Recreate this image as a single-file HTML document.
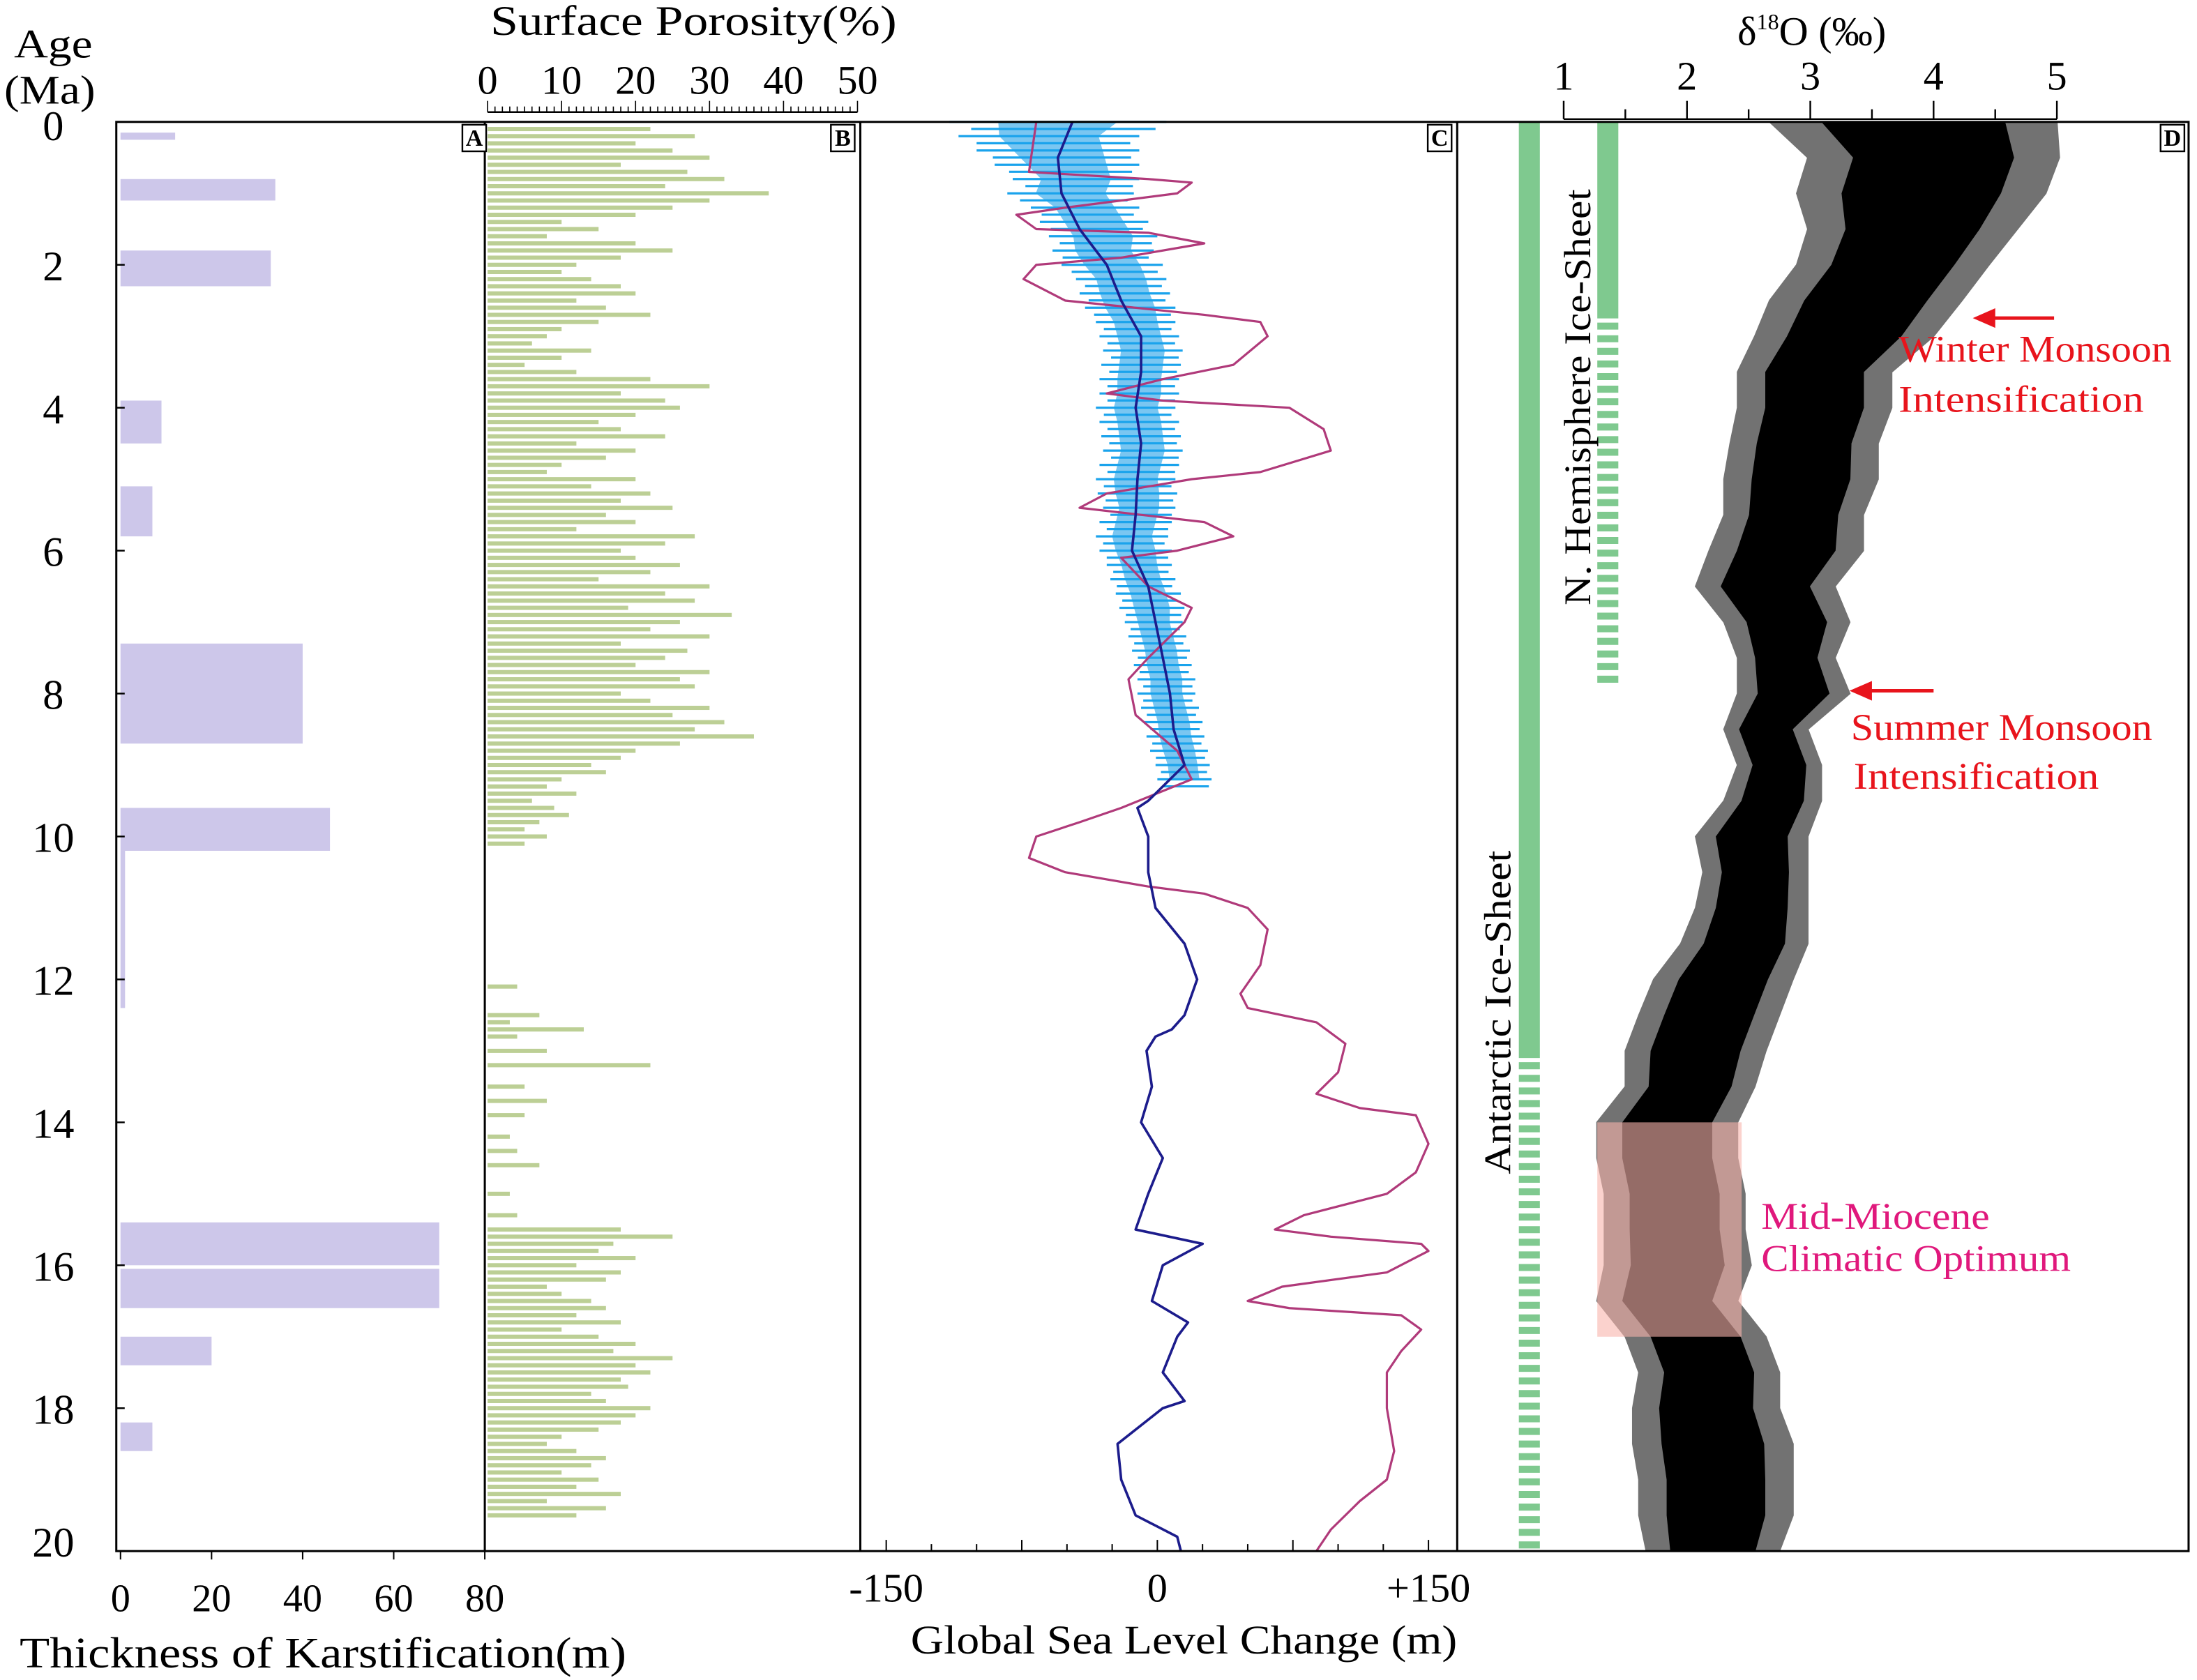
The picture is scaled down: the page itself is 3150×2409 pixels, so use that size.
<!DOCTYPE html>
<html><head><meta charset="utf-8"><style>
html,body{margin:0;padding:0;background:#fff;}
svg{display:block;}
text{font-family:"Liberation Serif",serif;}
</style></head><body>
<svg id="chart" width="3150" height="2409" viewBox="0 0 1568 1199" preserveAspectRatio="none" xmlns="http://www.w3.org/2000/svg">
<rect x="0" y="0" width="1568" height="1199" fill="#fff"/>
<g id="layer"></g>
</svg>
<script>
// ---- Panel A: karstification ----
const karstStart=[0.15,0.8,1.8,3.9,5.1,7.3,9.6,10.2,15.4,16.05,17.0,18.2];
const karstEnd=[0.25,1.1,2.3,4.5,5.8,8.7,10.2,12.4,16.0,16.6,17.4,18.6];
const karstThick=[12,34,33,9,7,40,46,1,70,70,20,7];
// ---- Panel B: porosity ----
const poroAges=[];
const poroVals=[22,28,20,25,30,18,27,32,24,38,30,25,20,10,15,8,20,25,18,12,10,14,18,20,12,16,22,15,10,8,6,14,10,5,12,22,30,18,24,26,20,15,18,24,12,20,16,10,8,20,14,22,18,25,16,20,12,28,24,18,20,26,22,15,30,24,28,19,33,26,22,30,18,27,24,20,30,26,28,18,22,30,25,32,28,36,26,20,18,14,16,10,8,12,6,9,11,7,5,8,5];
for(let i=0;i<poroVals.length;i++)poroAges.push(+(0.1+i*0.1).toFixed(2));
const poroAges2=[12.1,12.5,12.6,12.7,12.8,13.0,13.2,13.5,13.7,13.9,14.2,14.4,14.6,15.0,15.3];
const poroVals2=[4,7,3,13,4,8,22,5,8,5,3,4,7,3,4];
const poroVals3=[18,25,17,15,20,12,18,16,8,10,14,16,12,18,10,15,20,17,25,20,22,18,19,14,16,22,20,18,15,10,8,12,16,14,10,15,12,18,8,16,12];
const poroAges3=[];for(let i=0;i<poroVals3.length;i++)poroAges3.push(+(15.5+i*0.1).toFixed(2));
// ---- Panel C: sea level ----
const slAges=[0,0.5,1,1.5,2,2.5,3,3.5,4,4.5,5,5.5,6,6.5,7,7.5,8,8.5,9,9.5,9.6,10,10.5,11,11.5,12,12.5,12.7,12.8,13,13.5,14,14.5,15,15.5,15.7,16,16.5,16.8,17,17.5,17.9,18,18.5,19,19.5,19.8,20];
const slVals=[-47,-55,-53,-43,-28,-20,-9,-9,-12,-9,-11,-12,-14,-5,-1,3,7,9,15,-5,-11,-5,-5,-1,15,22,15,8,-1,-6,-3,-9,3,-5,-12,25,3,-3,17,11,3,15,3,-22,-20,-12,11,13];
const errAges=[];for(let i=0;i<47;i++)errAges.push(+(i*0.2).toFixed(2));
const errCenter=[-55,-60,-55,-50,-45,-48,-40,-35,-30,-30,-25,-20,-18,-15,-12,-10,-8,-9,-10,-10,-12,-10,-9,-8,-10,-12,-11,-10,-12,-14,-12,-10,-8,-5,-3,-2,0,2,3,5,5,7,9,10,12,14,15];
const errHalf=[60,50,45,40,35,35,30,30,30,28,28,25,25,25,22,22,22,22,22,22,22,22,22,22,22,22,22,20,20,20,20,18,18,18,18,16,16,16,16,16,16,16,16,16,16,15,15];
const purAges=[0,0.7,0.8,0.85,1.0,1.2,1.3,1.5,1.55,1.7,1.9,2.0,2.2,2.5,2.7,2.8,3.0,3.4,3.6,3.8,3.9,4.0,4.3,4.6,4.9,5.0,5.2,5.4,5.6,5.8,6.0,6.1,6.5,6.8,7.0,7.5,7.8,8.3,8.8,9.2,9.6,9.8,10.0,10.3,10.5,10.7,10.8,11.0,11.3,11.8,12.2,12.4,12.6,12.9,13.3,13.6,13.8,13.9,14.3,14.7,15.0,15.3,15.5,15.6,15.7,15.8,16.1,16.3,16.5,16.6,16.7,16.9,17.2,17.5,18.0,18.6,19.0,19.3,19.7,20.0];
const purVals=[-67,-71,-5,19,11,-51,-78,-67,-5,26,-20,-67,-74,-51,26,57,61,42,3,-28,3,73,92,96,57,19,-28,-43,26,42,11,-20,-5,19,15,-5,-16,-12,11,19,-20,-43,-67,-71,-51,-5,26,50,61,57,46,50,88,104,100,88,112,143,150,143,127,81,65,96,146,150,127,69,50,73,135,146,135,127,127,131,127,112,96,88];
// ---- Panel D: d18O envelope (offset above 1 permil) ----
const dAges=[];for(let i=0;i<41;i++)dAges.push(i*0.5);
const dMin=[1.67,1.98,1.89,1.98,1.89,1.67,1.55,1.41,1.41,1.35,1.3,1.3,1.18,1.07,1.3,1.41,1.41,1.3,1.41,1.3,1.07,1.13,1.07,0.95,0.73,0.61,0.5,0.5,0.27,0.27,0.33,0.33,0.33,0.27,0.5,0.61,0.56,0.56,0.61,0.61,0.67];
const dMax=[4.0,4.02,3.91,3.68,3.45,3.23,3.0,2.66,2.66,2.55,2.55,2.43,2.43,2.2,2.32,2.2,2.32,1.98,2.09,2.09,1.98,1.98,1.98,1.98,1.86,1.75,1.64,1.55,1.41,1.41,1.47,1.47,1.52,1.41,1.64,1.75,1.75,1.86,1.86,1.86,1.75];
const NS='http://www.w3.org/2000/svg';
const L=document.getElementById('layer');
const yA=a=>87+a*51;
const xA=t=>86+t*3.25;
const xB=p=>348+p*5.28;
const xC=m=>826+m*1.29;
const xD=d=>1116+(d-1)*88;
function mk(tag,attrs,parent){const e=document.createElementNS(NS,tag);for(const k in attrs)e.setAttribute(k,attrs[k]);(parent||L).appendChild(e);return e;}
function txt(x,y,s,size,attrs,len){const a=Object.assign({x:x,y:y,'font-size':size},attrs||{});if(len){a.textLength=len;a.lengthAdjust='spacingAndGlyphs';}const e=mk('text',a);e.textContent=s;return e;}

// bars A
const gA=mk('g',{});


for(let i=0;i<karstThick.length;i++){
  const r=mk('rect',{x:xA(0),y:yA(karstStart[i]),width:xA(karstThick[i])-xA(0),height:Math.max(yA(karstEnd[i])-yA(karstStart[i]),2),fill:'#cdc7ea'},gA);
  
  
}
// bars B
const gB=mk('g',{});


function pbars(ages,vals){for(let i=0;i<vals.length;i++){
  const r=mk('rect',{x:xB(0),y:yA(ages[i])-1.5,width:xB(vals[i])-xB(0),height:3,fill:'#bccf95'},gB);
  
  
}}
pbars(poroAges,poroVals);pbars(poroAges2,poroVals2);pbars(poroAges3,poroVals3);

// Panel C
const gC=mk('g',{});


let band='';
for(let i=0;i<errAges.length;i++)band+=(i?'L':'M')+xC(errCenter[i]+errHalf[i]*0.55)+','+yA(errAges[i]);
for(let i=errAges.length-1;i>=0;i--)band+='L'+xC(errCenter[i]-errHalf[i]*0.55)+','+yA(errAges[i]);
const bp=mk('path',{d:band+'Z',fill:'#22a0e8',opacity:0.6},gC);


for(let i=0;i<errAges.length;i++){
  for(let k=0;k<2;k++){
    const yy=yA(errAges[i])+k*5;
    const ln=mk('line',{x1:xC(errCenter[i]-errHalf[i]*(k?0.8:1)),x2:xC(errCenter[i]+errHalf[i]*(k?0.9:1)),y1:yy,y2:yy,stroke:'#1aa3ec','stroke-width':1.6},gC);
    
    
  }
}
function line(ages,vals,xf,color,w,name){let d='';for(let i=0;i<ages.length;i++)d+=(i?'L':'M')+xf(vals[i]).toFixed(1)+','+yA(ages[i]).toFixed(1);
  const p=mk('path',{d:d,fill:'none',stroke:color,'stroke-width':w,'stroke-linejoin':'round'},gC);
  
  }
line(purAges,purVals,xC,'#b03a7a',1.6,'sea-level-curve-haq');
line(slAges,slVals,xC,'#1c1c8c',1.8,'sea-level-curve-miller');

// Panel D
const gD=mk('g',{});


function gbar(x,solidEnd,dashEnd,name){
  const r=mk('rect',{x:x,y:87,width:15,height:yA(solidEnd)-87,fill:'#7fc98f'},gD);
  
  
  const d=mk('line',{x1:x+7.5,x2:x+7.5,y1:yA(solidEnd)+3,y2:yA(dashEnd),stroke:'#7fc98f','stroke-width':15,'stroke-dasharray':'5,4'},gD);
  
  
}
gbar(1084,13.1,20,'antarctic-ice-sheet-bar');
gbar(1140,2.75,7.9,'n-hemisphere-ice-sheet-bar');
let env='';
for(let i=0;i<dAges.length;i++)env+=(i?'L':'M')+xD(1+dMax[i])+','+yA(dAges[i]);
for(let i=dAges.length-1;i>=0;i--)env+='L'+xD(1+dMin[i])+','+yA(dAges[i]);
const ep=mk('path',{d:env+'Z',fill:'#000',opacity:0.55,stroke:'#000','stroke-width':1},gD);


let core='';
for(let i=0;i<dAges.length;i++){const m=(dMin[i]+dMax[i])/2,h=(dMax[i]-dMin[i])*0.32;core+=(i?'L':'M')+xD(1+m+h)+','+yA(dAges[i]);}
for(let i=dAges.length-1;i>=0;i--){const m=(dMin[i]+dMax[i])/2,h=(dMax[i]-dMin[i])*0.32;core+='L'+xD(1+m-h)+','+yA(dAges[i]);}
const cp=mk('path',{d:core+'Z',fill:'#000'},gD);


const pk=mk('rect',{x:1140,y:yA(14),width:103,height:yA(17)-yA(14),fill:'#f8b4ac',opacity:0.6},gD);



// frame
const fr=mk('g',{stroke:'#000','stroke-width':1.5,fill:'none'});


mk('rect',{x:83,y:87,width:1479,height:1020},fr);
[346,614,1040].forEach(x=>mk('line',{x1:x,x2:x,y1:87,y2:1107},fr));
[['A',330],['B',593],['C',1019],['D',1542]].forEach(([s,x])=>{
  const g=mk('g',{});
  
  
  mk('rect',{x:x,y:89,width:17,height:19,fill:'#fff',stroke:'#000','stroke-width':1.2},g);
  const t=txt(x+8.5,104,s,17,{'text-anchor':'middle','font-family':'Liberation Sans','font-weight':'bold'});g.appendChild(t);
});
// age axis
const ageTicks=[0,2,4,6,8,10,12,14,16,18,20];
ageTicks.forEach(a=>{const t=txt(38,yA(a)+11+(a===0?2:0)-(a===20?7:0),String(a),30,{'text-anchor':'middle'});
  
  
  mk('line',{x1:83,x2:89,y1:yA(a),y2:yA(a),stroke:'#000','stroke-width':1.2});});
txt(10,41,'Age',29,{},56);
txt(3,74,'(Ma)',29,{},65);
// A bottom axis
const aTicks=[0,20,40,60,80];
aTicks.forEach(v=>{mk('line',{x1:xA(v),x2:xA(v),y1:1107,y2:1113,stroke:'#000'});
  const t=txt(xA(v),1150,String(v),28,{'text-anchor':'middle'});
  
  });
txt(14,1190,'Thickness of Karstification(m)',31,{},433);
// B top axis
mk('line',{x1:xB(0),x2:xB(50),y1:80,y2:80,stroke:'#000','stroke-width':1.2});
for(let v=0;v<=50;v++)mk('line',{x1:xB(v),x2:xB(v),y1:80,y2:v%10===0?72:76,stroke:'#000','stroke-width':0.8});
[0,10,20,30,40,50].forEach(v=>{const t=txt(xB(v),67,String(v),29,{'text-anchor':'middle'});
  
  });
txt(350,25,'Surface Porosity(%)',30,{},290);
// C bottom axis
for(let v=-150;v<=150;v+=25)mk('line',{x1:xC(v),x2:xC(v),y1:1107,y2:v%75===0?1099:1102,stroke:'#000','stroke-width':1});
[[-150,'-150'],[0,'0'],[150,'+150']].forEach(([v,s])=>{const t=txt(xC(v),1143,s,29,{'text-anchor':'middle'});
  
  });
txt(650,1180,'Global Sea Level Change (m)',29,{},390);
// D top axis
mk('line',{x1:xD(1),x2:xD(5),y1:85,y2:85,stroke:'#000','stroke-width':1.2});
for(let v=1;v<=5;v+=0.5)mk('line',{x1:xD(v),x2:xD(v),y1:85,y2:v%1===0?72:78,stroke:'#000','stroke-width':1.2});
[1,2,3,4,5].forEach(v=>{const t=txt(xD(v),64,String(v),29,{'text-anchor':'middle'});
  
  });
const tt=txt(1240,32,'',29,{});
tt.innerHTML='δ<tspan font-size="16" dy="-11">18</tspan><tspan dy="11">O (‰)</tspan>';
// ice sheet labels
txt(0,0,'Antarctic Ice-Sheet',27,{transform:'translate(1078,838) rotate(-90)'},231);
txt(0,0,'N. Hemisphere Ice-Sheet',27,{transform:'translate(1135,432) rotate(-90)'},297);
function arrow(x1,x2,y){mk('line',{x1:x1,x2:x2+12,y1:y,y2:y,stroke:'#e8141c','stroke-width':2.5});
  mk('path',{d:`M${x2},${y}L${x2+16},${y-7}L${x2+16},${y+7}Z`,fill:'#e8141c'});}
arrow(1466,1408,227);arrow(1380,1320,493);
txt(1355,258,'Winter Monsoon',27,{fill:'#e8141c'},195);
txt(1355,294,'Intensification',27,{fill:'#e8141c'},175);
txt(1321,528,'Summer Monsoon',27,{fill:'#e8141c'},215);
txt(1323,563,'Intensification',27,{fill:'#e8141c'},175);
txt(1257,877,'Mid-Miocene',27,{fill:'#e0187c'},163);
txt(1257,907,'Climatic Optimum',27,{fill:'#e0187c'},221);
</script>
</body></html>
